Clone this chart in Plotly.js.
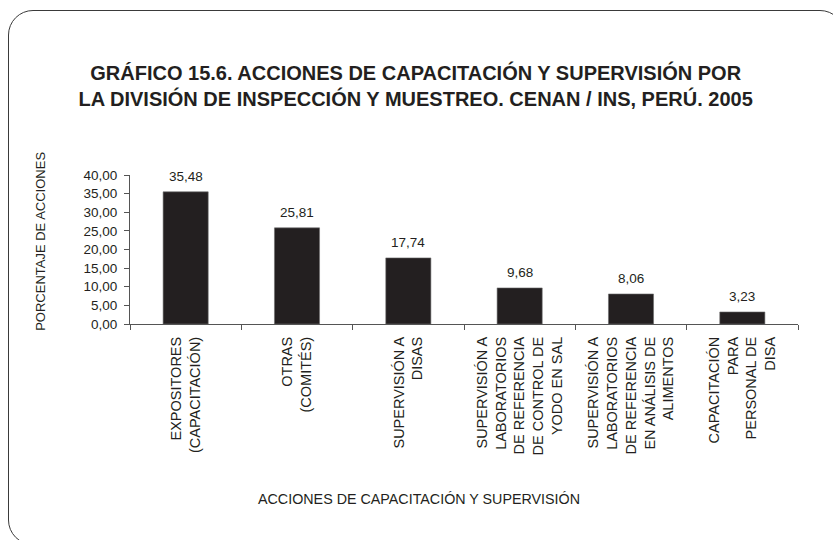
<!DOCTYPE html>
<html>
<head>
<meta charset="utf-8">
<script src="https://cdn.plot.ly/plotly-3.0.1.min.js"></script>
<style>
  html, body { margin: 0; padding: 0; overflow: hidden; background: #fff; }
  #wrap { position: relative; width: 833px; height: 540px; overflow: hidden; }
  #chart { position: absolute; left: 0; top: 0; width: 833px; height: 540px; }
  #frame { position: absolute; left: 8px; top: 10px; width: 835px; height: 533px;
           border: 1.5px solid #3a3a3a; border-radius: 25px; pointer-events: none; }
</style>
</head>
<body>
<div id="wrap">
  <div id="chart"></div>
  <div id="frame"></div>
</div>
<script>
const categories = [
  "EXPOSITORES<br>(CAPACITACIÓN)",
  "OTRAS<br>(COMITÉS)",
  "SUPERVISIÓN A<br>DISAS",
  "SUPERVISIÓN A<br>LABORATORIOS<br>DE REFERENCIA<br>DE CONTROL DE<br>YODO EN SAL",
  "SUPERVISIÓN A<br>LABORATORIOS<br>DE REFERENCIA<br>EN ANÁLISIS DE<br>ALIMENTOS",
  "CAPACITACIÓN<br>PARA<br>PERSONAL DE<br>DISA"
];
const porcentajes = [35.48, 25.81, 17.74, 9.68, 8.06, 3.23];
const yTicks = [0, 5, 10, 15, 20, 25, 30, 35, 40];

const titleText = "GRÁFICO 15.6. ACCIONES DE CAPACITACIÓN Y SUPERVISIÓN POR<br>LA DIVISIÓN DE INSPECCIÓN Y MUESTREO. CENAN / INS, PERÚ. 2005";
const yTitle = "PORCENTAJE DE ACCIONES";
const xTitle = "ACCIONES DE CAPACITACIÓN Y SUPERVISIÓN";

const fontFam = "Liberation Sans, Arial, Helvetica, sans-serif";
const ink = "#231f20";

const trace = {
  type: "bar",
  x: categories,
  y: porcentajes,
  marker: { color: ink, line: { color: "#6b6b6b", width: 0.6 } },
  hoverinfo: "none"
};

const labelAnnots = categories.map((c, i) => ({
  x: c, y: porcentajes[i], xref: "x", yref: "y",
  text: porcentajes[i].toFixed(2).replace(".", ","),
  showarrow: false, yanchor: "bottom", yshift: 6,
  font: { family: fontFam, size: 13.5, color: ink }
}));

const layout = {
  width: 833, height: 540,
  margin: { l: 130, r: 35, t: 175, b: 216 },
  paper_bgcolor: "#ffffff", plot_bgcolor: "#ffffff",
  font: { family: fontFam, color: ink },
  separators: ",.",
  bargap: 0.595,
  showlegend: false,
  title: {
    text: "<b>" + titleText + "</b>",
    x: 0.499, xanchor: "center",
    y: 0.852, yanchor: "top",
    font: { family: fontFam, size: 20, color: ink }
  },
  xaxis: {
    type: "category",
    tickangle: -90,
    tickson: "boundaries",
    ticks: "outside", ticklen: 5, tickcolor: "#555", tickwidth: 1,
    showline: true, linecolor: "#555", linewidth: 1,
    showgrid: false, zeroline: false,
    ticklabelstandoff: 6,
    tickfont: { family: fontFam, size: 14.5, color: ink },
    automargin: false
  },
  yaxis: {
    range: [0, 40],
    tickvals: yTicks,
    tickformat: ".2f",
    ticks: "outside", ticklen: 5, tickcolor: "#555", tickwidth: 1,
    showline: true, linecolor: "#555", linewidth: 1,
    showgrid: false, zeroline: false,
    ticklabelstandoff: 4,
    tickfont: { family: fontFam, size: 13.5, color: ink },
    automargin: false
  },
  annotations: labelAnnots.concat([
    {
      text: yTitle, xref: "paper", yref: "paper",
      x: -0.135, y: 0.557, textangle: -90, showarrow: false,
      xanchor: "center", yanchor: "middle",
      font: { family: fontFam, size: 13, color: ink }
    },
    {
      text: xTitle, xref: "paper", yref: "paper",
      x: 0.4326, y: -1.174, showarrow: false,
      xanchor: "center", yanchor: "middle",
      font: { family: fontFam, size: 14.3, color: ink }
    }
  ])
};

Plotly.newPlot("chart", [trace], layout, { displayModeBar: false, staticPlot: true });
</script>
</body>
</html>
